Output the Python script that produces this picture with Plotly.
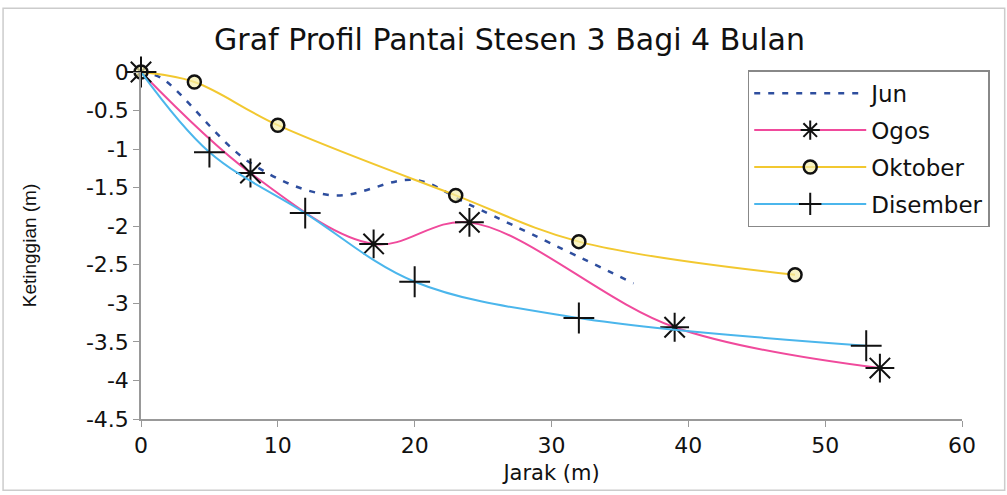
import plotly.graph_objects as go

# Data
jun_x = [0, 1.5, 8, 14, 20, 24, 36]
jun_y = [0, -0.08, -1.18, -1.6, -1.4, -1.72, -2.74]

ogos_x = [0, 8, 17, 24, 39, 54]
ogos_y = [0, -1.31, -2.23, -1.95, -3.31, -3.84]

okt_x = [0, 3.9, 10, 23, 32, 47.8]
okt_y = [0, -0.13, -0.69, -1.6, -2.2, -2.63]

dis_x = [0, 5, 12, 20, 32, 53]
dis_y = [0, -1.04, -1.83, -2.72, -3.19, -3.55]

x_ticks = [0, 10, 20, 30, 40, 50, 60]
y_ticks = [0, -0.5, -1, -1.5, -2, -2.5, -3, -3.5, -4, -4.5]

FONT = "DejaVu Sans"

fig = go.Figure()
fig.add_trace(go.Scatter(
    x=jun_x, y=jun_y, name="Jun", mode="lines", legendgroup="a",
    line=dict(color="#2E4E9E", width=2.5, dash="6px,8px", shape="spline", smoothing=1),
    cliponaxis=False))
fig.add_trace(go.Scatter(
    x=ogos_x, y=ogos_y, name="Ogos", mode="lines+markers", legendgroup="b",
    line=dict(color="#F04A9C", width=2, shape="spline", smoothing=1),
    marker=dict(symbol="asterisk-open", size=24, color="#111111", line=dict(color="#111111", width=2)),
    cliponaxis=False))
fig.add_trace(go.Scatter(
    x=okt_x, y=okt_y, name="Oktober", mode="lines+markers", legendgroup="c",
    line=dict(color="#F2C830", width=2, shape="spline", smoothing=1),
    marker=dict(symbol="circle", size=13, color="rgba(245,238,170,0.7)", line=dict(color="#111111", width=2.5)),
    cliponaxis=False))
fig.add_trace(go.Scatter(
    x=dis_x, y=dis_y, name="Disember", mode="lines+markers", legendgroup="d",
    line=dict(color="#4BB6EC", width=2, shape="spline", smoothing=1),
    marker=dict(symbol="cross-thin-open", size=22, color="#111111", line=dict(color="#111111", width=2)),
    cliponaxis=False))

fig.update_layout(
    width=1007, height=495,
    margin=dict(l=141, r=45, t=72, b=76),
    paper_bgcolor="white", plot_bgcolor="white",
    font=dict(family=FONT, size=20, color="#111111"),
    title=dict(text="Graf Profil Pantai Stesen 3 Bagi 4 Bulan", x=0.506, xanchor="center",
               y=0.92, yanchor="middle", font=dict(family=FONT, size=30, color="#111111")),
    showlegend=True,
    legend=dict(x=0.739, xanchor="left", y=1.005, yanchor="top",
                xref="paper", yref="paper", traceorder="grouped",
                bgcolor="white", bordercolor="#888888", borderwidth=1.5,
                font=dict(family=FONT, size=23, color="#111111"),
                itemwidth=112, tracegroupgap=4),
)
fig.update_xaxes(range=[0, 60], tickvals=x_ticks, ticktext=[str(v) for v in x_ticks],
                 showline=True, linecolor="#999999", linewidth=1.5, ticks="outside",
                 ticklen=6, tickcolor="#999999", showgrid=False, zeroline=False,
                 tickfont=dict(size=22),
                 title=dict(text="Jarak (m)", font=dict(size=21), standoff=8))
fig.update_yaxes(range=[-4.5, 0], tickvals=y_ticks, ticktext=[str(v) for v in y_ticks],
                 showline=True, linecolor="#999999", linewidth=1.5, ticks="outside",
                 ticklen=6, tickcolor="#999999", showgrid=False, zeroline=False,
                 tickfont=dict(size=22),
                 title=dict(text="Ketinggian (m)", font=dict(family="Liberation Sans", size=19), standoff=44))

fig.add_shape(type="rect", xref="paper", yref="paper", x0=-0.168, x1=1.052, y0=-0.205, y1=1.184,
              line=dict(color="#CCCCCC", width=1.5))

fig.write_html("out.html")
